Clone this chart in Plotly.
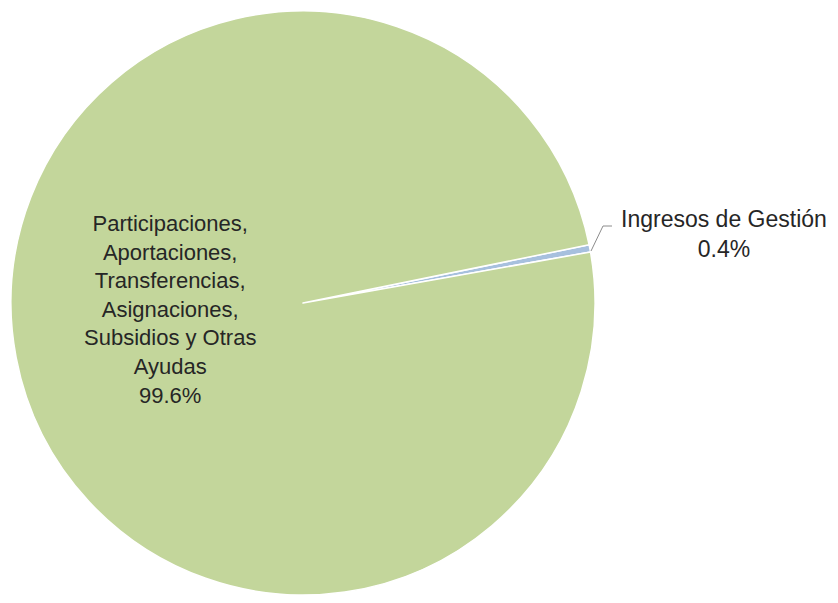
import plotly.graph_objects as go

# Data
labels = ["Ingresos de Gestión",
          "Participaciones, Aportaciones, Transferencias, Asignaciones, Subsidios y Otras Ayudas"]
display_labels = ["Ingresos de Gestión",
                  "Participaciones,<br>Aportaciones,<br>Transferencias,<br>Asignaciones,<br>Subsidios y Otras<br>Ayudas"]
values = [0.4, 99.6]
colors = ["#A7C0DE", "#C3D69B"]

W, H = 838, 603
OFF = 8  # page body margin compensation


def px(x, y):
    return (x - OFF) / W, (H - (y - OFF)) / H


fig = go.Figure()
x0, y0 = px(11, 595)
x1, y1 = px(595, 11)
fig.add_trace(go.Pie(
    labels=labels,
    values=values,
    sort=False,
    direction="clockwise",
    rotation=78.5,
    textinfo="none",
    hoverinfo="label+percent",
    marker=dict(colors=colors, line=dict(color="white", width=1.5)),
    domain=dict(x=[x0, x1], y=[y0, y1]),
    showlegend=False,
))

total = sum(values)
font_color = "#262626"
family = "Liberation Sans, Arial, sans-serif"

# Label positions and sizes (layout choices)
label_pos = [(724, 234), (170, 310)]
label_size = [23, 22]
for lab, v, (lx, ly), fs in zip(display_labels, values, label_pos, label_size):
    ax, ay = px(lx, ly)
    fig.add_annotation(
        x=ax, y=ay, xref="paper", yref="paper",
        text=f"{lab}<br>{v / total * 100:.1f}%",
        showarrow=False, xanchor="center", yanchor="middle",
        align="center", font=dict(family=family, size=fs, color=font_color),
    )

# Leader line for the small slice
p1 = px(591, 251)
p2 = px(603, 226)
p3 = px(612, 226)
fig.add_shape(
    type="path", xref="paper", yref="paper",
    path=f"M {p1[0]},{p1[1]} L {p2[0]},{p2[1]} L {p3[0]},{p3[1]}",
    line=dict(color="#8c8c8c", width=1),
)

fig.update_layout(
    width=W, height=H,
    margin=dict(l=0, r=0, t=0, b=0),
    paper_bgcolor="white",
    plot_bgcolor="white",
)

fig.write_html("out.html")
